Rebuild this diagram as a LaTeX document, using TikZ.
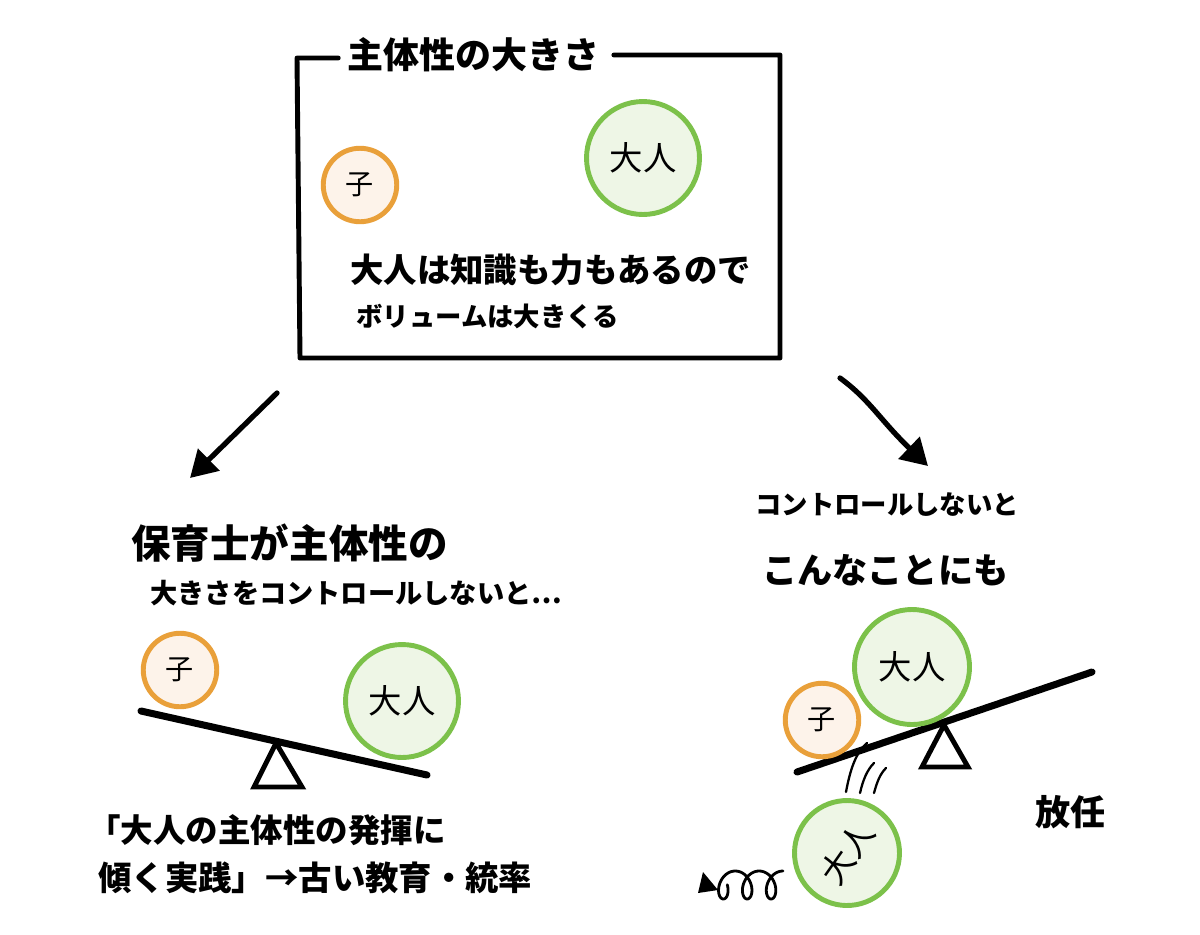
\documentclass[tikz,border=0pt]{standalone}
\usepackage{fontspec}
\newfontfamily\jp{Noto Sans CJK JP}
\usetikzlibrary{arrows.meta}
\definecolor{kidline}{HTML}{E9A03A}
\definecolor{kidfill}{HTML}{FDF3EA}
\definecolor{adline}{HTML}{7CC14A}
\definecolor{adfill}{HTML}{EEF6E6}
\newcommand{\fs}[1]{\fontsize{#1pt}{#1pt}\selectfont}
\tikzset{
  hand/.style={font=\jp\bfseries, inner sep=0pt, anchor=west},
  kid/.style={circle, draw=kidline, fill=kidfill, line width=2.8pt, minimum size=1.47cm, inner sep=0pt, font=\jp\fs{16}},
  adult/.style={circle, draw=adline, fill=adfill, line width=2.8pt, minimum size=2.26cm, inner sep=0pt, font=\jp\fs{19}},
  frame/.style={line width=2.8pt, line cap=round, line join=round},
  beam/.style={line width=4pt, line cap=round},
  fulcrum/.style={line width=2.8pt, line join=miter},
  bigarrow/.style={line width=3pt, line cap=round, -{Triangle[length=15pt,width=17pt]}},
  motion/.style={line width=1.3pt, line cap=round},
}
\begin{document}
\begin{tikzpicture}[x=0.02cm, y=-0.02cm]
\useasboundingbox (0,0) rectangle (1200,934);
% ---------- top box ----------
\node[hand, font=\jp\bfseries\fs{20.5}] (title) at (347,55) {主体性の大きさ};
\coordinate (tl) at (297,58);
\coordinate (tr) at (780,55);
\coordinate (br) at (780,358);
\coordinate (bl) at (300,358);
\draw[frame] ([xshift=8pt]title.east |- tr) -- (tr) -- (br) -- (bl) -- (tl) -- ([xshift=-5pt]title.west |- tl);
\node[kid] (k1) at (360,185) {子};
\node[adult] (a1) at (643,158) {大人};
\node[hand, font=\jp\bfseries\fs{19}] (t1) at (350,270) {大人は知識も力もあるので};
\node[hand, font=\jp\bfseries\fs{15}] (t2) at (356,316) {ボリュームは大きくる};
% ---------- arrows ----------
\coordinate (la1) at (277,393);
\coordinate (la2) at (190,478);
\draw[bigarrow] (la1) -- (la2);
\coordinate (ra1) at (840,378);
\coordinate (ra2) at (928,466);
\draw[bigarrow] (ra1) .. controls (870,400) and (880,420) .. (ra2);
% ---------- left scene ----------
\node[hand, font=\jp\bfseries\fs{22.5}] (lh1) at (131,543) {保育士が主体性の};
\node[hand, font=\jp\bfseries\fs{15.5}] (lh2) at (150,593) {大きさをコントロールしないと…};
\node[kid] (k2) at (180,670) {子};
\node[adult] (a2) at (402,701) {大人};
\coordinate (lb1) at (141,711);
\coordinate (lb2) at (427,775);
\draw[beam] (lb1) -- (lb2);
\coordinate (lt1) at (276,743);
\coordinate (lt2) at (254,787);
\coordinate (lt3) at (302,787);
\draw[fulcrum] (lt1) -- (lt2) -- (lt3) -- cycle;
\node[hand, font=\jp\bfseries\fs{18.5}] (lb1t) at (88,830) {「大人の主体性の発揮に};
\node[hand, font=\jp\bfseries\fs{19}] (lb2t) at (98,878) {傾く実践」→古い教育・統率};
% ---------- right scene ----------
\node[hand, font=\jp\bfseries\fs{15}] (rh1) at (755,505) {コントロールしないと};
\node[hand, font=\jp\bfseries\fs{20}] (rh2) at (762,570) {こんなことにも};
\coordinate (rb1) at (797,772);
\coordinate (rb2) at (1092,672);
\draw[beam] (rb1) -- (rb2);
\coordinate (rt1) at (944,725);
\coordinate (rt2) at (922,767);
\coordinate (rt3) at (968,767);
\draw[fulcrum] (rt1) -- (rt2) -- (rt3) -- cycle;
\node[kid] (k3) at (822,720) {子};
\node[adult, minimum size=2.3cm] (a3) at (912,667) {大人};
\node[adult, minimum size=2.1cm, rotate=55] (a4) at (847,853) {大人};
% motion lines
\coordinate (m1a) at (846,792); \coordinate (m1b) at (867,743);
\coordinate (m2a) at (860,793); \coordinate (m2b) at (874,763);
\coordinate (m3a) at (874,793); \coordinate (m3b) at (886,768);
\draw[motion] (m1a) .. controls (850,770) and (856,752) .. (m1b);
\draw[motion] (m2a) .. controls (863,780) and (867,770) .. (m2b);
\draw[motion] (m3a) .. controls (877,782) and (880,774) .. (m3b);
% spiral (curl) with filled tip
\draw[line width=1.6pt, line cap=round, line join=round]
  plot[domain=0:17.3, samples=160, variable=\t, smooth]
  ({783 - 3.8*\t - 10*sin(\t r)}, {885 - 14*cos(\t r)});
\coordinate (tipA) at (698,893);
\coordinate (tipB) at (703,872);
\coordinate (tipC) at (718,890);
\fill (tipA) -- (tipB) -- (tipC) -- cycle;
\node[hand, font=\jp\bfseries\fs{20}] (hounin) at (1035,812) {放任};
\end{tikzpicture}
\end{document}
